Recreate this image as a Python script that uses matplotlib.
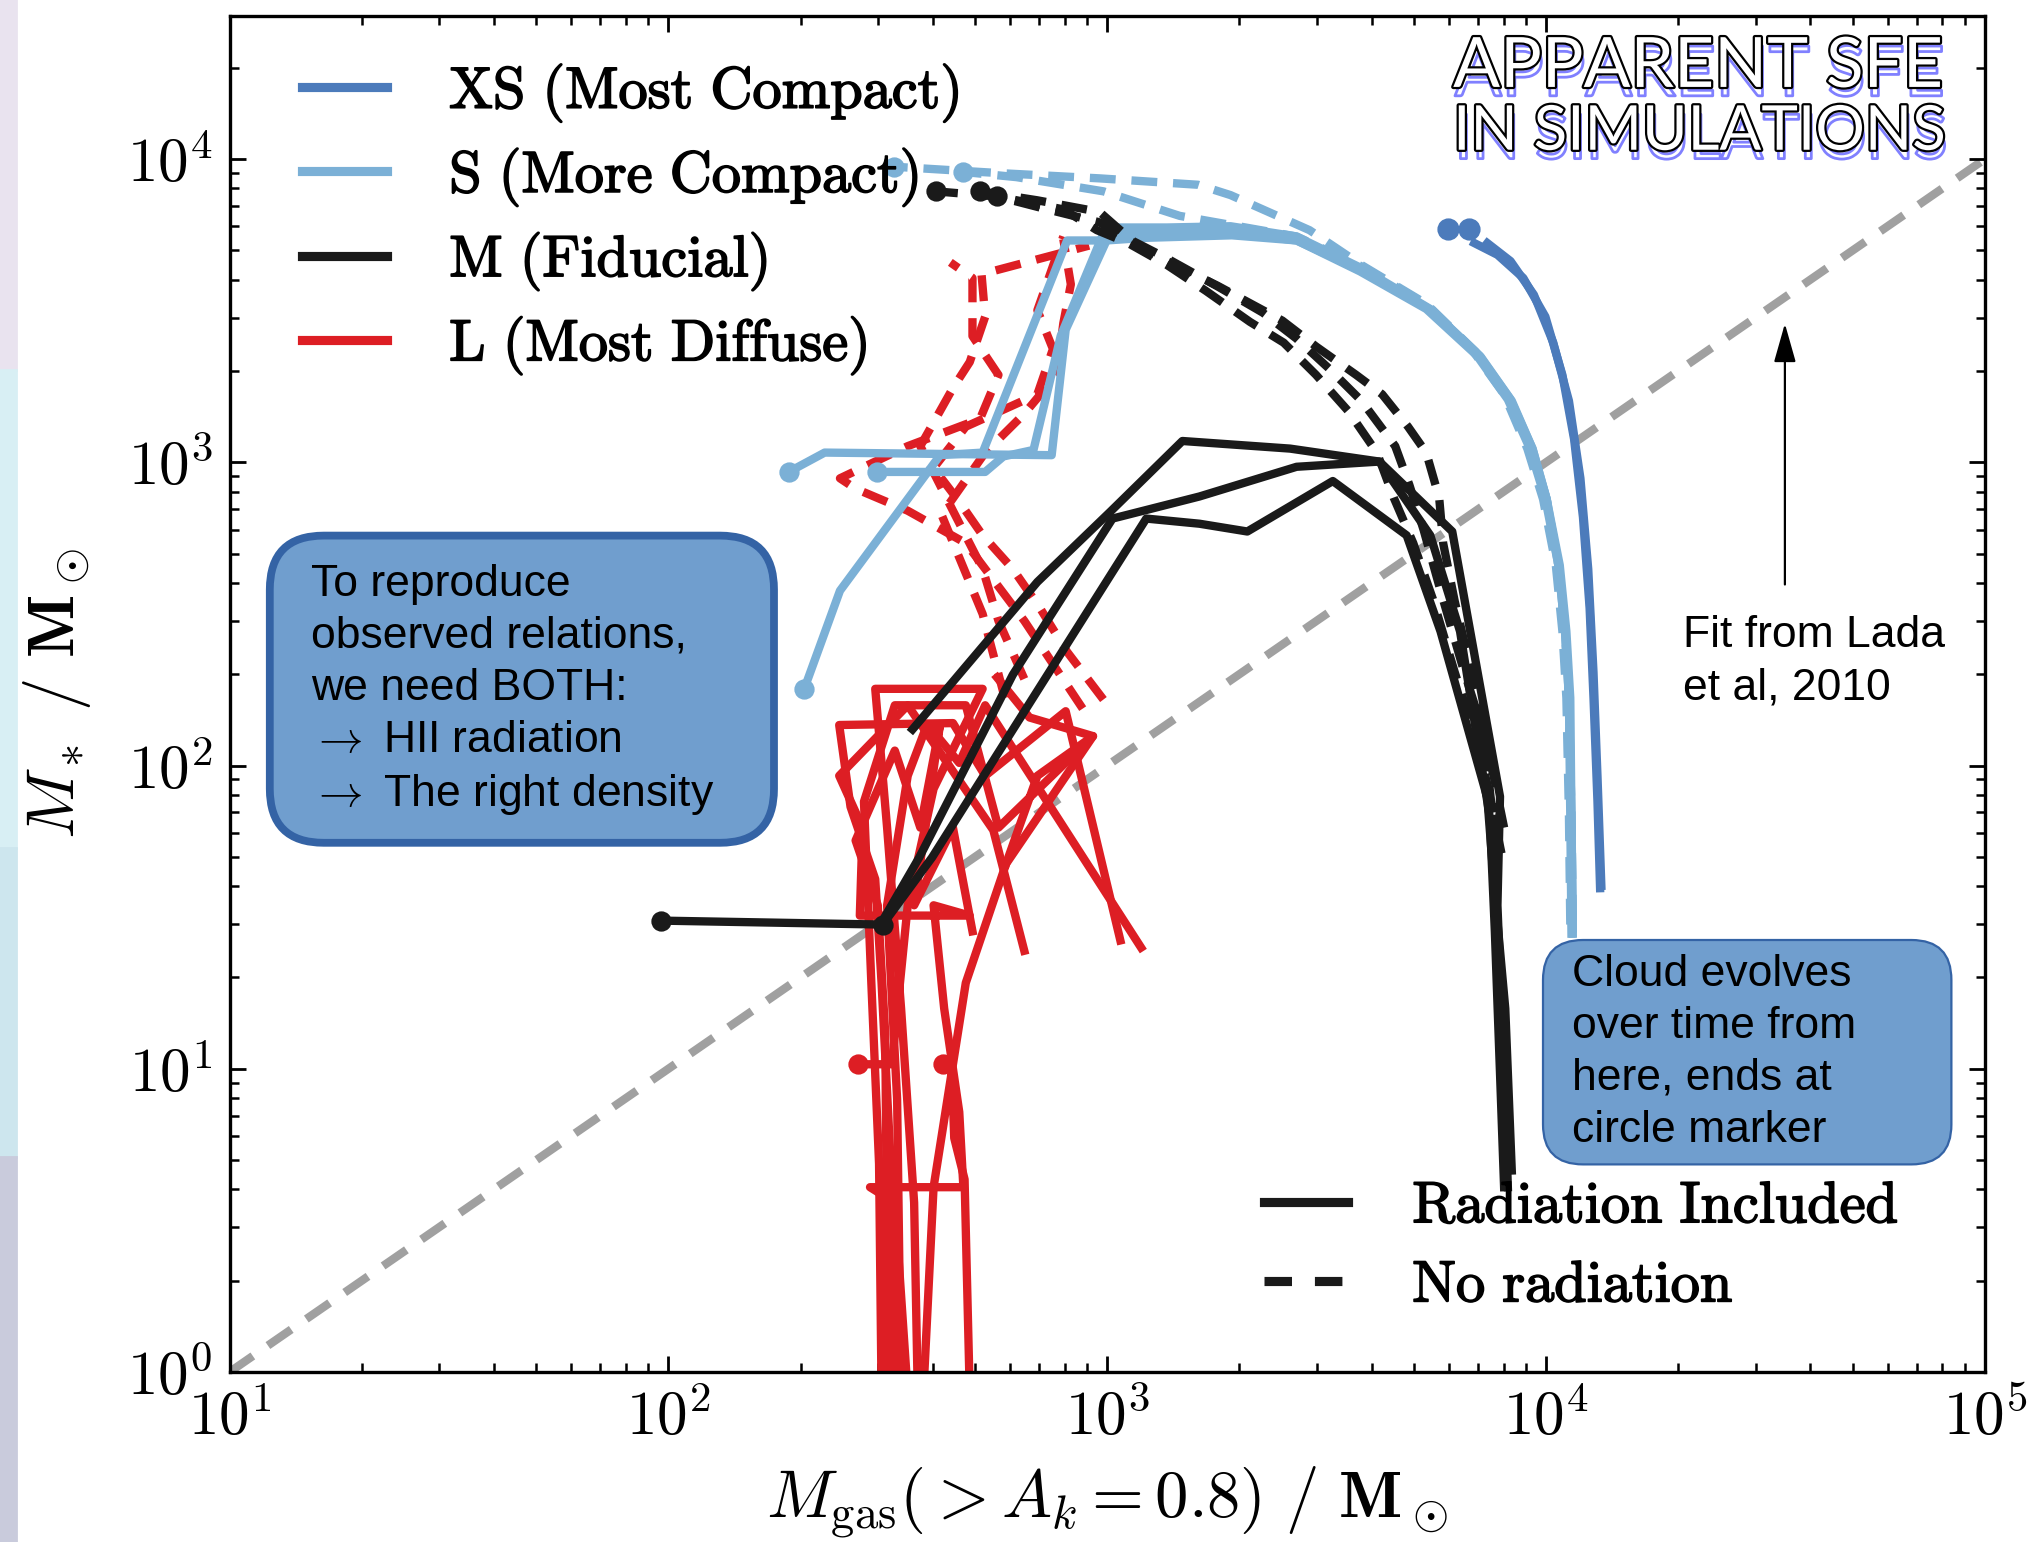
import numpy as np
import matplotlib
matplotlib.use("Agg")
import matplotlib.pyplot as plt
import matplotlib.patheffects as pe
from matplotlib.lines import Line2D
from matplotlib.patches import FancyBboxPatch, Rectangle
from matplotlib.ticker import FuncFormatter, LogLocator

plt.rcParams["mathtext.fontset"] = "cm"

C_XS = "#4c7bbb"
C_S = "#7bb0d6"
C_M = "#1a1a1a"
C_L = "#dd1e24"
C_FIT = "#a0a0a0"
BOX_FILL = "#709ece"
BOX_EDGE = "#3463a5"
NOTE_FONT = ["Liberation Sans", "DejaVu Sans"]

# ---- data: gas mass (x) and stellar mass (y), Msun ----
# XS, radiation included (two runs), plus their final points
xs_a_gas = [6860, 7745, 8870, 9960, 10890, 11580, 12130, 12560, 12820, 13090, 13270]
xs_a_star = [5280, 4830, 4050, 3020, 1940, 1190, 659, 331, 167, 76, 39.4]
xs_b_gas = [7345, 8295, 9376, 10380, 11270, 11970, 12470, 12820, 13090, 13360]
xs_b_star = [5280, 4605, 3567, 2479, 1594, 885, 445, 203, 92.5, 40.1]
xs_end_gas = [5984, 6668]
xs_end_star = [5884, 5884]

# S, radiation included
s1_gas = [11500, 11420, 11350, 11120, 10740, 10030, 9310, 8295, 7045, 5445, 3820, 2700,
          1909, 1368, 1028, 804, 747, 227, 188]
s1_star = [27.9, 67.5, 167, 277, 458, 755, 1109, 1610, 2249, 3201, 4345, 5550,
           6000, 5943, 5943, 2735, 1055, 1076, 929]
s2_gas = [11420, 11350, 11270, 11040, 10660, 9960, 9180, 8180, 6950, 5330, 3767, 2700,
          1922, 1227, 973, 783, 679, 580, 527, 298]
s2_star = [27.9, 67.5, 167, 277, 458, 755, 1109, 1610, 2249, 3201, 4256, 5385,
           5715, 5715, 5550, 2606, 1098, 1045, 929, 929]
s3_gas = [11500, 11420, 11270, 11040, 10660, 10030, 9310, 8350, 7095, 5480, 3845, 2700,
          1922, 1227, 993, 810, 520, 416, 246, 204]
s3_star = [29.0, 68.8, 167, 277, 458, 755, 1109, 1594, 2228, 3170, 4256, 5385,
           5600, 5495, 5385, 5385, 1076, 1055, 377, 179]
# S, no radiation
sd1_gas = [11350, 11270, 11120, 10890, 10520, 9840, 9060, 8020, 6760, 5330, 3795, 2890,
           1909, 1610, 960, 569, 326]
sd1_star = [29.9, 68.8, 167, 277, 458, 755, 1109, 1675, 2362, 3330, 4470, 5823,
            7600, 8220, 8630, 8980, 9430]
sd2_gas = [11500, 11420, 11270, 11040, 10660, 10030, 9250, 8180, 6905, 5405, 3845, 2700,
           1463, 980, 621, 470]
sd2_star = [30.8, 68.8, 167, 277, 458, 755, 1109, 1641, 2317, 3266, 4385, 5550,
            6490, 7820, 8710, 9060]

# M, radiation included
m1_gas = [8020, 7850, 7640, 7440, 6365, 5445, 4170, 2610, 1483, 1014, 693, 360]
m1_star = [4.07, 9.66, 28.4, 67.5, 277, 574, 1005, 1109, 1175, 685, 403, 131.6]
m2_gas = [8180, 7960, 7745, 7850, 6110, 4170, 2700, 1622, 1028, 609, 373, 304, 96.3]
m2_star = [4.07, 13.0, 34.6, 79.0, 591, 1005, 966, 771, 652, 199, 49.8, 29.9, 30.8]
m3_gas = [8350, 8070, 7590, 7345, 5745, 4810, 3265, 2085, 1622, 1227, 399, 308]
m3_star = [4.62, 15.8, 42.2, 78.2, 277, 574, 867, 591, 627, 652, 49.8, 29.9]
# M, no radiation
md1_gas = [7745, 7390, 6905, 6190, 5515, 4980, 4495, 4115, 3543, 2990, 2523, 2113,
           1678, 1368, 1115, 947, 794, 561, 407]
md1_star = [56.6, 83.8, 124, 203, 355, 541, 764, 1076, 1473, 1941, 2479, 2904,
            3672, 4470, 5280, 5823, 6820, 7520, 7820]
md2_gas = [8020, 7590, 7095, 6445, 5780, 5260, 4880, 4530, 3795, 3200, 2700, 2264,
           1795, 1368, 1138, 960, 693, 513]
md2_star = [62.4, 92.5, 137, 213, 366, 597, 841, 1130, 1594, 2037, 2555, 3110,
            3780, 4700, 5385, 6690, 7305, 7820]
md3_gas = [7910, 7490, 7245, 6760, 6190, 5825, 5705, 5330, 4845, 4230, 3690, 2990,
           2506, 1783, 1260, 960, 693, 561]
md3_star = [51.3, 76, 118, 203, 348, 541, 764, 1076, 1310, 1675, 1941, 2408,
            2930, 3820, 4885, 6180, 6950, 7520]

# L, no radiation
ld1_gas = [980, 810, 702, 609, 520, 460, 402, 476, 693, 752, 693, 794]
ld1_star = [165, 237, 331, 445, 574, 741, 957, 1310, 1675, 2362, 3170, 5550]
ld2_gas = [879, 647, 476, 351, 267, 246, 351, 513, 565, 493, 493, 439]
ld2_star = [154, 300, 541, 692, 818, 885, 1130, 1390, 1941, 2606, 4053, 4560]
ld3_gas = [647, 565, 520, 445, 375, 445, 486, 527, 517, 909]
ld3_star = [193, 300, 445, 692, 1130, 1757, 2140, 3020, 4170, 5180]
ld4_gas = [584, 520, 419, 527, 647, 767, 794, 826, 794]
ld4_star = [167, 316, 672, 1076, 1445, 1941, 2870, 3860, 5440]
# L, radiation included
l1_gas = [370, 363, 339, 315, 296, 520, 402, 351, 323, 271]
l1_star = [0.85, 3.62, 15.8, 62.4, 179, 179, 83.8, 34.6, 10.35, 10.35]
l2_gas = [561, 665, 928, 588, 476, 402, 381, 486, 473, 448, 442, 422]
l2_star = [195, 144, 125, 47.4, 19.2, 4.07, 0.85, 0.85, 4.32, 5.91, 10.35, 10.35]
l3_gas = [351, 328, 288, 470, 460, 425, 402, 486, 273, 277, 245, 351, 550, 647]
l3_star = [0.85, 3.62, 4.07, 4.07, 7.2, 15.8, 34.6, 32.0, 32.0, 62.4, 92.5, 158, 61.2, 24.5]
l4_gas = [328, 323, 306, 296, 260, 245, 445, 527, 804, 1071]
l4_star = [0.85, 4.07, 19.2, 42.2, 73.1, 136, 138, 92.5, 151, 26.5]
l5_gas = [306, 302, 290, 279, 328, 476, 565, 928, 693, 588]
l5_star = [0.85, 4.86, 19.2, 76, 158, 158, 62.4, 125, 92.5, 47.4]
l6_gas = [339, 332, 315, 351, 389, 460, 527, 1194]
l6_star = [0.85, 7.94, 34.6, 92.5, 137, 102, 158, 25.1]
l7_gas = [317, 312, 300, 267, 328, 375, 416, 363, 445, 493]
l7_star = [0.85, 13.0, 34.6, 56.6, 112, 62.4, 137, 34.6, 62.4, 28.4]

# Lada et al. 2010 fit
lada_gas = [10, 1e5]
lada_star = [1, 1e4]

# (gas, star, colour, dashed?, circle at last point?)
tracks = [
    (l1_gas, l1_star, C_L, False, True), (l2_gas, l2_star, C_L, False, True),
    (l3_gas, l3_star, C_L, False, False), (l4_gas, l4_star, C_L, False, False),
    (l5_gas, l5_star, C_L, False, False), (l6_gas, l6_star, C_L, False, False),
    (l7_gas, l7_star, C_L, False, False),
    (ld1_gas, ld1_star, C_L, True, False), (ld2_gas, ld2_star, C_L, True, False),
    (ld3_gas, ld3_star, C_L, True, False), (ld4_gas, ld4_star, C_L, True, False),
    (sd1_gas, sd1_star, C_S, True, True), (sd2_gas, sd2_star, C_S, True, True),
    (s1_gas, s1_star, C_S, False, True), (s2_gas, s2_star, C_S, False, True),
    (s3_gas, s3_star, C_S, False, True),
    (xs_a_gas, xs_a_star, C_XS, False, False), (xs_b_gas, xs_b_star, C_XS, False, False),
    (md1_gas, md1_star, C_M, True, True), (md2_gas, md2_star, C_M, True, True),
    (md3_gas, md3_star, C_M, True, True),
    (m1_gas, m1_star, C_M, False, False), (m2_gas, m2_star, C_M, False, True),
    (m3_gas, m3_star, C_M, False, True),
]

LW = 3.0
DASH = (0, (3.1, 1.9))

fig = plt.figure(figsize=(10.165, 7.71), dpi=200)
ax = fig.add_axes([0.1129, 0.1102, 0.8635, 0.8797])

# faint coloured strip at the left edge of the slide
for y0, h, col in [(0.76, 0.24, "#e9e3ef"), (0.45, 0.31, "#d8eff4"),
                   (0.25, 0.20, "#cde6ee"), (0.0, 0.25, "#c9cbdc")]:
    fig.patches.append(Rectangle((0, y0), 0.0077, h, transform=fig.transFigure,
                                 color=col, zorder=0))

ax.plot(lada_gas, lada_star, color=C_FIT, lw=3.0, ls=(0, (3.4, 2.2)), zorder=1)

for i, (g, s, col, dashed, circ) in enumerate(tracks):
    ax.plot(g, s, color=col, lw=LW, ls=DASH if dashed else "-",
            marker="o" if circ else None, markevery=[len(g) - 1], ms=6.3,
            solid_joinstyle="round", zorder=2 + i * 0.01)
ax.plot(xs_end_gas, xs_end_star, "o", color=C_XS, ms=7, zorder=3)

ax.set_xscale("log")
ax.set_yscale("log")
ax.set_xlim(10, 1e5)
ax.set_ylim(1, 2.97e4)

fmt = FuncFormatter(lambda v, p: r"$10^{%d}$" % int(round(np.log10(v))))
for axis in (ax.xaxis, ax.yaxis):
    axis.set_major_locator(LogLocator(base=10))
    axis.set_minor_locator(LogLocator(base=10, subs=np.arange(2, 10)))
    axis.set_major_formatter(fmt)
ax.tick_params(which="both", direction="in", top=True, right=True, labelsize=22)
ax.tick_params(which="major", length=5.8, width=1.0, pad=6)
ax.tick_params(which="minor", length=3.2, width=0.9)
for sp in ax.spines.values():
    sp.set_linewidth(1.2)

ax.set_xlabel(r"$M_{\rm gas}(>A_k=0.8)\ /\ \mathbf{M}_\odot$", fontsize=24, labelpad=6)
ax.set_ylabel(r"$M_*\ /\ \mathbf{M}_\odot$", fontsize=24, labelpad=12)

bold_ish = [pe.withStroke(linewidth=0.6, foreground="black")]

# size legend
size_handles = [Line2D([], [], color=c, lw=3.3) for c in (C_XS, C_S, C_M, C_L)]
size_labels = [r"$\mathrm{XS\ (Most\ Compact)}$", r"$\mathrm{S\ (More\ Compact)}$",
               r"$\mathrm{M\ (Fiducial)}$", r"$\mathrm{L\ (Most\ Diffuse)}$"]
leg1 = ax.legend(size_handles, size_labels, loc="upper left",
                 bbox_to_anchor=(0.0414, 0.966), frameon=False, fontsize=21,
                 handlelength=1.45, handletextpad=1.07, labelspacing=0.38,
                 borderpad=0, borderaxespad=0)
for t in leg1.get_texts():
    t.set_path_effects(bold_ish)
leg1.set_zorder(6)
ax.add_artist(leg1)

# physics legend
phys_handles = [Line2D([], [], color=C_M, lw=3.3),
                Line2D([], [], color=C_M, lw=3.3, ls=(0, (3.0, 2.5)))]
phys_labels = [r"$\mathrm{Radiation\ Included}$", r"$\mathrm{No\ radiation}$"]
leg2 = ax.legend(phys_handles, phys_labels, loc="upper left",
                 bbox_to_anchor=(0.589, 0.1434), frameon=False, fontsize=21,
                 handlelength=1.44, handletextpad=1.11, labelspacing=0.38,
                 borderpad=0, borderaxespad=0)
for t in leg2.get_texts():
    t.set_path_effects(bold_ish)
leg2.set_zorder(6)

# outlined headline with a thin blue drop outline
headline_fx = [pe.Stroke(linewidth=1.0, foreground="#8080ff", offset=(0.6, -3.2)),
               pe.Stroke(linewidth=1.6, foreground="black"), pe.Normal()]
ax.text(0.697, 0.985, "APPARENT SFE", transform=ax.transAxes, fontsize=25,
        family="Lato", color="white", va="top", ha="left", zorder=8,
        path_effects=headline_fx)
ax.text(0.697, 0.935, "IN SIMULATIONS", transform=ax.transAxes, fontsize=22.3,
        family="Lato", color="white", va="top", ha="left", zorder=8,
        path_effects=headline_fx)

# callout boxes (positions in inches on the figure)
box1 = FancyBboxPatch((1.349, 3.496), 2.521, 1.536,
                      boxstyle="round,pad=0,rounding_size=0.27",
                      transform=fig.dpi_scale_trans, fc=BOX_FILL, ec=BOX_EDGE,
                      lw=2.8, zorder=9)
fig.patches.append(box1)
fig.text(1.556 / 10.165, 1 - 2.82 / 7.71,
         "To reproduce\nobserved relations,\nwe need BOTH:\n"
         "$\\rightarrow$ HII radiation\n$\\rightarrow$ The right density",
         family=NOTE_FONT, fontsize=16, va="top", ha="left", linespacing=1.34, zorder=10)

box2 = FancyBboxPatch((7.715, 1.888), 2.042, 1.122,
                      boxstyle="round,pad=0,rounding_size=0.2",
                      transform=fig.dpi_scale_trans, fc=BOX_FILL, ec=BOX_EDGE,
                      lw=0.8, zorder=9)
fig.patches.append(box2)
fig.text(7.86 / 10.165, 1 - 4.77 / 7.71,
         "Cloud evolves\nover time from\nhere, ends at\ncircle marker",
         family=NOTE_FONT, fontsize=16, va="top", ha="left", linespacing=1.34, zorder=10)

# Lada fit annotation
ax.annotate("", xy=(0.886, 0.777), xytext=(0.886, 0.5765), xycoords="axes fraction",
            arrowprops=dict(arrowstyle="-|>,head_length=0.6,head_width=0.17",
                            mutation_scale=20, lw=0.8, color="black"))
ax.text(0.828, 0.558, "Fit from Lada\net al, 2010", transform=ax.transAxes,
        family=NOTE_FONT, fontsize=16, va="top", ha="left", linespacing=1.34)

fig.savefig("out.png", dpi=200)
